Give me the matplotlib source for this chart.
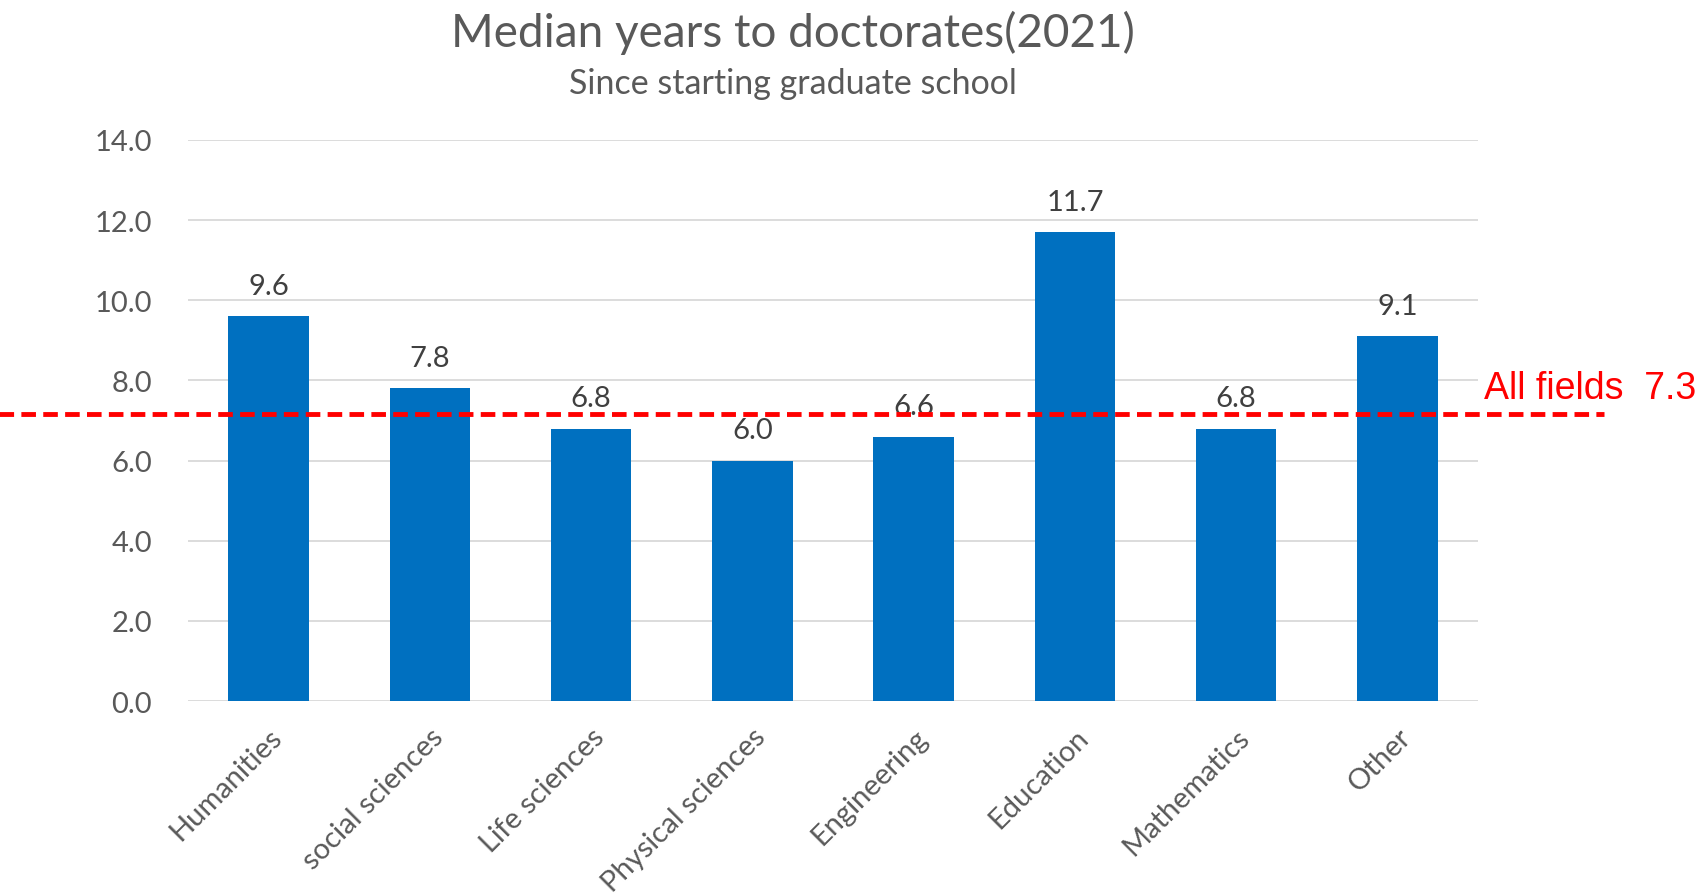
import matplotlib
matplotlib.use('Agg')
import matplotlib.pyplot as plt

fields = ['Humanities', 'social sciences', 'Life sciences', 'Physical sciences',
          'Engineering', 'Education', 'Mathematics', 'Other']
years = [9.6, 7.8, 6.8, 6.0, 6.6, 11.7, 6.8, 9.1]
all_fields = 7.3
all_fields_line = 7.15  # where the dashed line sits in the picture

plt.rcParams['font.family'] = ['Lato', 'DejaVu Sans']

fig = plt.figure(figsize=(17.02, 8.95), dpi=100)
ax = fig.add_axes([0.1105, 0.2156, 0.7579, 0.6269])

x = range(len(fields))
ax.bar(x, years, width=0.5, color='#0070C0', zorder=3)
for i, v in zip(x, years):
    ax.annotate(f'{v:.1f}', (i, v), xytext=(0, 22), textcoords='offset points',
                ha='center', va='center', fontsize=21, color='#404040', zorder=5)

ax.set_xlim(-0.5, len(fields) - 0.5)
ax.set_ylim(0, 14)
ax.set_yticks([0, 2, 4, 6, 8, 10, 12, 14])
ax.set_yticklabels([f'{t:.1f}' for t in [0, 2, 4, 6, 8, 10, 12, 14]],
                   fontsize=21, color='#595959')
ax.set_xticks(list(x))
ax.set_xticklabels(fields, rotation=45, ha='right', rotation_mode='anchor',
                   fontsize=21, color='#595959')
ax.tick_params(length=0)
ax.tick_params(axis='y', pad=26)
ax.tick_params(axis='x', pad=16)
ax.grid(axis='y', color='#D9D9D9', linewidth=1.3, zorder=0)
for s in ax.spines.values():
    s.set_visible(False)

# dashed average line runs past the axes on both sides
ax.plot([-1.7, 8.28], [all_fields_line, all_fields_line], color='#FF0000',
        linestyle=(0, (3, 1.5)), linewidth=3.5, clip_on=False, zorder=6)
ax.text(7.54, 7.82, f'All fields  {all_fields}', fontsize=27, color='#FF0000',
        family=['Liberation Sans'], ha='left', va='center', clip_on=False)

fig.text(0.466, 0.963, 'Median years to doctorates(2021)', ha='center', va='center',
         fontsize=33, color='#595959')
fig.text(0.466, 0.906, 'Since starting graduate school', ha='center', va='center',
         fontsize=24.5, color='#595959')

plt.savefig('out.png', dpi=100)
